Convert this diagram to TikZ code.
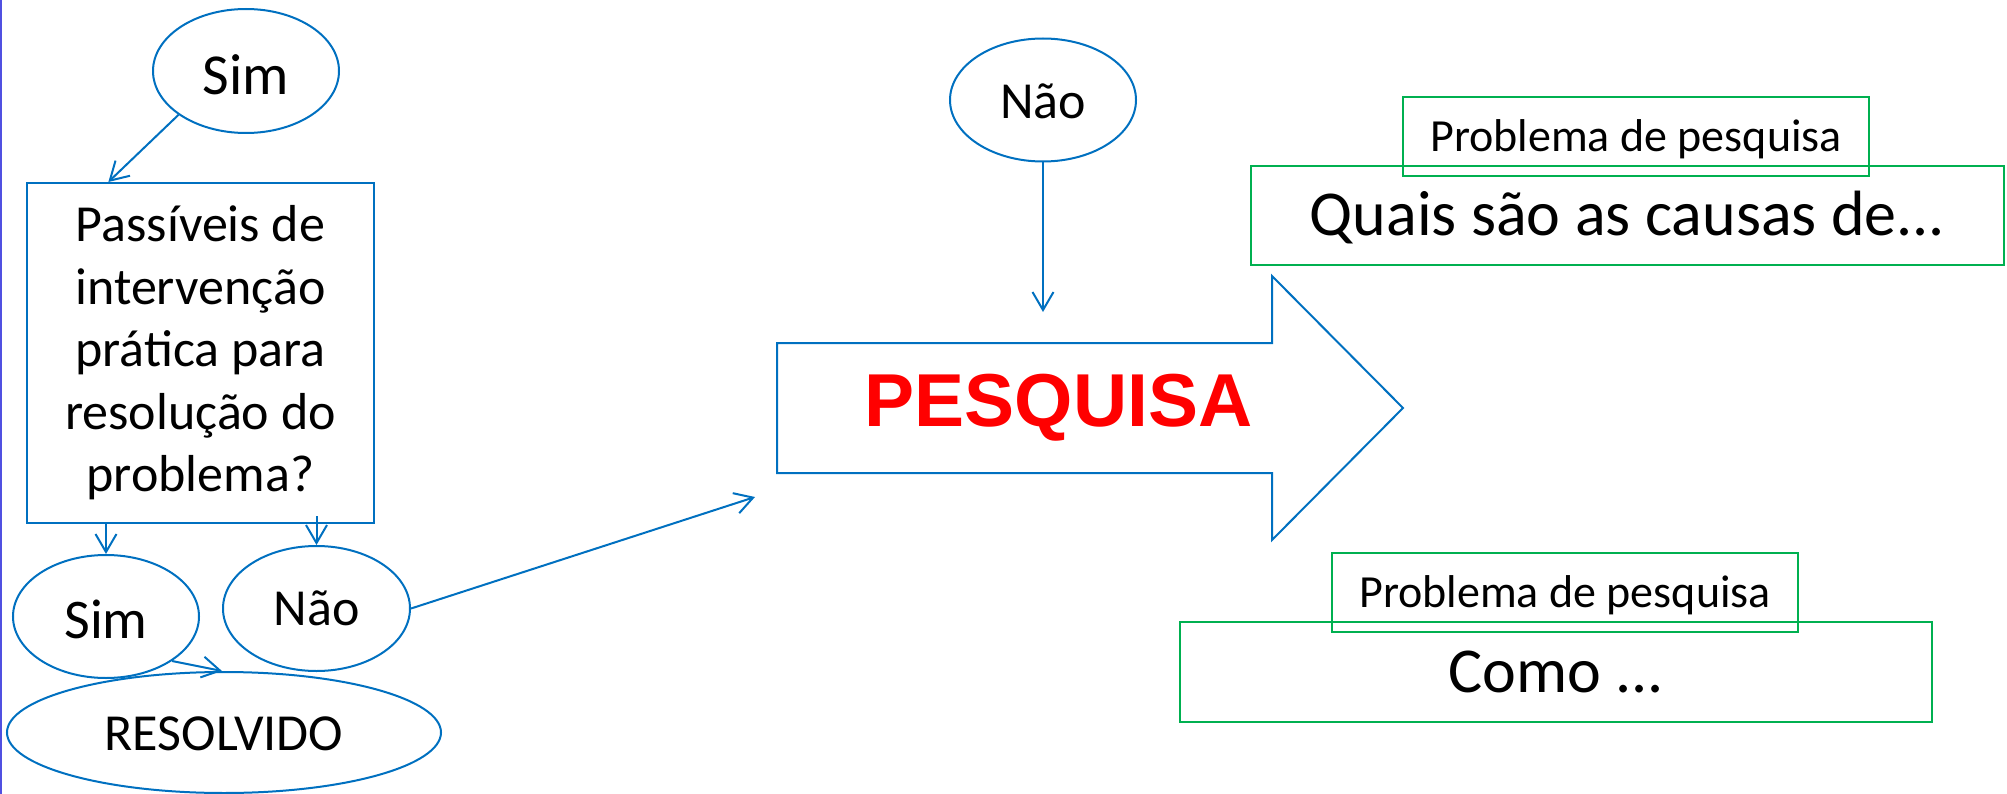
\documentclass[tikz,border=0pt]{standalone}
\usepackage{fontspec}
\setmainfont{Carlito}
\newfontfamily\arialfont{Liberation Sans}
\usetikzlibrary{shapes.geometric,arrows.meta,calc}
\definecolor{oblue}{RGB}{0,112,192}
\definecolor{ogreen}{RGB}{0,176,80}
\definecolor{ored}{RGB}{255,0,0}
\definecolor{edgeblue}{RGB}{80,80,225}
\begin{document}
\begin{tikzpicture}[x=1pt,y=-1pt,
  bl/.style={draw=oblue, line width=2pt},
  ell/.style={bl, ellipse, inner sep=0pt, text depth=0pt},
  conn/.style={draw=oblue, line width=2pt, -{Straight Barb[length=18pt,width=21pt]}},
  gbox/.style={draw=ogreen, line width=2.5pt, rectangle, inner sep=0pt, text depth=0pt},
  fsim/.style={font=\fontsize{58}{70}\selectfont},
  fmid/.style={font=\fontsize{52}{62.5}\selectfont},
  fsmall/.style={font=\fontsize{46}{55}\selectfont},
  fbig/.style={font=\fontsize{64}{77}\selectfont}]
\useasboundingbox (0,0) rectangle (2007,794);
\draw[edgeblue, line width=2pt] (1,0) -- (1,794);

% left flow
\node[ell, fsim, minimum width=186pt, minimum height=124pt, text height=48pt] (sim1) at (246,71) {Sim};
\node[bl, rectangle, minimum width=347pt, minimum height=340pt, inner sep=0pt, align=center, fmid] (q) at (200.5,353)
  {Passíveis de\\intervenção\\prática para\\resolução do\\problema?};
\node[ell, font=\fontsize{56}{67}\selectfont, minimum width=186pt, minimum height=123pt, text height=43pt] (sim2) at (106,616.5) {Sim};
\node[ell, fmid, minimum width=187pt, minimum height=125pt, text height=33pt] (nao1) at (316.5,608.5) {Não};
\node[ell, fmid, minimum width=434pt, minimum height=121pt, text height=35pt] (res) at (224,732.5) {RESOLVIDO};

% big arrow
\coordinate (a1) at (777,343);
\coordinate (a2) at (1272,343);
\coordinate (a3) at (1272,276);
\coordinate (a4) at (1403,408);
\coordinate (a5) at (1272,540);
\coordinate (a6) at (1272,473);
\coordinate (a7) at (777,473);
\draw[bl, line join=miter] (a1) -- (a2) -- (a3) -- (a4) -- (a5) -- (a6) -- (a7) -- cycle;
\node[font=\arialfont\bfseries\fontsize{75}{90}\selectfont, text=ored, text height=54pt, text depth=0pt, inner sep=0pt] (pes) at (1058.5,399.5) {PESQUISA};

\node[ell, fmid, minimum width=186pt, minimum height=123pt, text height=37pt] (nao2) at (1043,100) {Não};

% green boxes
\node[gbox, fsmall, minimum width=466pt, minimum height=79pt, text height=30pt] (pp1) at (1636,136.5) {Problema de pesquisa};
\node[gbox, fbig, minimum width=753pt, minimum height=99pt, text height=41pt] (qq) at (1627.5,215.5) {Quais são as causas de...};
\node[gbox, fsmall, minimum width=466pt, minimum height=79pt, text height=30pt] (pp2) at (1565,592.5) {Problema de pesquisa};
\node[gbox, fbig, minimum width=752pt, minimum height=100pt, text height=41pt] (como) at (1556,672) {Como ...};

% connectors
\coordinate (qtop) at ($(q.north west)!0.236!(q.north east)$);
\draw[conn] (sim1.213.7) -- (qtop);
\draw[conn] (sim2.north |- q.south) -- (sim2.north);
\draw[conn] ($(nao1.north |- q.south)+(0,-8)$) -- (nao1.north);
\draw[conn] (sim2.326.4) -- ($(res.north)+(-2,0)$);
\coordinate (pin) at (755,497);
\draw[conn] (nao1.east) -- (pin);
\coordinate (pin2) at (1043,312);
\draw[conn] (nao2.south) -- (pin2);
\end{tikzpicture}
\end{document}
